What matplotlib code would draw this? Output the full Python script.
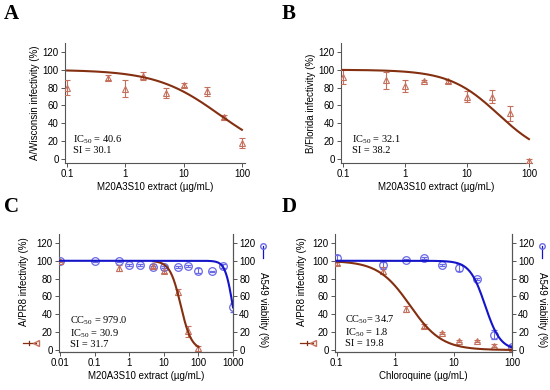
import numpy as np
import matplotlib
matplotlib.use("Agg")
import matplotlib.pyplot as plt
from matplotlib.lines import Line2D

plt.rcParams['font.family'] = ['Liberation Sans', 'DejaVu Sans']
plt.rcParams['mathtext.fontset'] = 'custom'
plt.rcParams['mathtext.rm'] = 'Liberation Serif'

# ---------------- data ----------------
# A: A/Wisconsin
a_dose = [0.1, 0.5, 1, 2, 5, 10, 25, 50, 100]
a_inf = [80, 91, 79, 93, 74, 83, 76, 47, 18]
a_err = [8, 3, 9, 4, 6, 2, 5, 2, 6]
a_fit = (40.6, 0.8)  # (IC50, hill)

# B: B/Florida
b_dose = [0.1, 0.5, 1, 2, 5, 10, 25, 50, 100]
b_inf = [92, 88, 82, 87, 87, 70, 70, 51, -2]
b_err = [8, 10, 7, 1, 2, 6, 7, 8, 2]
b_fit = (32.1, 1.1)

# C: A/PR8 with M20A3S10
c_dose_inf = [0.01, 0.5, 5, 10, 25, 50, 100]
c_inf = [100, 92, 94, 88, 65, 21, 2]
c_inf_err = [1, 3, 2, 2, 3, 6, 3]
c_dose_via = [0.01, 0.1, 0.5, 1, 2, 5, 10, 25, 50, 100, 250, 500, 1000]
c_via = [100, 100, 100, 95, 95, 93, 93, 93, 94, 89, 88, 94, 48]
c_via_err = [1, 1, 1, 1, 1, 1, 1, 1, 1, 3, 1, 2, 5]
c_fit_inf = (30.9, 2.8)
c_fit_via = (979.0, 4.0)

# D: A/PR8 with chloroquine
d_dose = [0.1, 0.625, 1.5625, 3.125, 6.25, 12.5, 25, 50, 100]
d_inf = [97, 89, 46, 27, 19, 10, 10, 5, 2]
d_inf_err = [2, 4, 3, 2, 1, 1, 1, 2, 1]
d_via = [103, 95, 101, 103, 95, 92, 80, 17, 3]
d_via_err = [3, 4, 1, 1, 1, 4, 1, 5, 3]
d_fit_inf = (1.8, 1.6)
d_fit_via = (34.7, 3.3)

BROWN = '#842f10'
TRI = '#c4705c'
BLUE = '#1414c8'
CIRC = '#6a6ae6'
GRAY = '#555555'


def hill(x, ic50, h):
    return 100.0 / (1.0 + (x / ic50) ** h)


def style_ax(ax, right=False):
    ax.spines['top'].set_visible(False)
    if not right:
        ax.spines['right'].set_visible(False)
    for s in ax.spines.values():
        s.set_color(GRAY)
        s.set_linewidth(0.8)
    ax.tick_params(labelsize=7, length=3, width=0.7, color=GRAY, pad=1.5)
    ax.set_yticks([0, 20, 40, 60, 80, 100, 120])


def tri(ax, x, y, e):
    ax.errorbar(x, y, yerr=e, fmt='^', ms=5, mfc='none', mec=TRI, mew=0.8,
                ecolor=TRI, elinewidth=0.8, capsize=2, capthick=0.8, zorder=3)


def circ(ax, x, y, e):
    ax.errorbar(x, y, yerr=e, fmt='o', ms=5.5, mfc='none', mec=CIRC, mew=0.9,
                ecolor=CIRC, elinewidth=0.8, capsize=2, capthick=0.8, zorder=3)


def note(ax, x, y, lines):
    ax.text(x, y, '\n'.join(lines), fontsize=7.5, family='Liberation Serif',
            va='center', ha='left', linespacing=1.0)


def keys(ax, axr, xl, xr):
    # small symbol keys beside the axis titles
    ax.add_line(Line2D([xl - 0.035, xl + 0.035], [0.075, 0.075], transform=ax.transAxes,
                       color=BROWN, lw=0.9, marker='<', ms=4, mfc='none', mec=TRI,
                       markevery=[1], clip_on=False))
    ax.add_line(Line2D([xl, xl], [0.06, 0.09], transform=ax.transAxes, color=BROWN,
                       lw=0.9, clip_on=False))
    axr.add_line(Line2D([xr, xr], [0.80, 0.90], transform=axr.transAxes, color=BLUE,
                        lw=0.9, marker='o', ms=4, mfc='none', mec=CIRC,
                        markevery=[1], clip_on=False))


fig = plt.figure(figsize=(5.5, 3.9), dpi=100)
W, H = 550.0, 390.0


def axes_px(l, r, t, b):
    return fig.add_axes([l / W, 1 - b / H, (r - l) / W, (b - t) / H])


# ---- A ----
ax = axes_px(65, 245, 43, 163)
style_ax(ax)
ax.set_xscale('log')
xs = np.logspace(-1, 2, 200)
ax.plot(xs, hill(xs, *a_fit), color=BROWN, lw=1.5, zorder=4)
tri(ax, a_dose, a_inf, a_err)
ax.set_xlim(0.092, 113)
ax.set_ylim(-4.5, 130)
ax.set_xticks([0.1, 1, 10, 100], ['0.1', '1', '10', '100'])
ax.minorticks_off()
ax.set_xlabel('M20A3S10 extract (\u00b5g/mL)', fontsize=7, labelpad=2)
ax.set_ylabel('A/Wisconsin infectivity (%)', fontsize=7, labelpad=2)
note(ax, 0.126, 17, ['IC$_{50}$ = 40.6', 'SI = 30.1'])

# ---- B ----
ax = axes_px(341, 532, 43, 163)
style_ax(ax)
ax.set_xscale('log')
ax.plot(xs, hill(xs, *b_fit), color=BROWN, lw=1.5, zorder=4)
tri(ax, b_dose, b_inf, b_err)
ax.set_xlim(0.093, 112)
ax.set_ylim(-4.5, 130)
ax.set_xticks([0.1, 1, 10, 100], ['0.1', '1', '10', '100'])
ax.minorticks_off()
ax.set_xlabel('M20A3S10 extract (\u00b5g/mL)', fontsize=7, labelpad=2)
ax.set_ylabel('B/Florida infectivity (%)', fontsize=7, labelpad=2)
note(ax, 0.138, 17, ['IC$_{50}$ = 32.1', 'SI = 38.2'])

# ---- C ----
ax = axes_px(59, 233, 234, 352)
style_ax(ax, right=True)
ax.set_xscale('log')
xc = np.logspace(np.log10(5), 2, 150)
ax.plot(xc, hill(xc, *c_fit_inf), color=BROWN, lw=1.5, zorder=4)
xv = np.logspace(-2, 3, 300)
ax.plot(xv, hill(xv, *c_fit_via), color=BLUE, lw=1.5, zorder=4)
circ(ax, c_dose_via, c_via, c_via_err)
tri(ax, c_dose_inf, c_inf, c_inf_err)
ax.set_xlim(0.0094, 1000)
ax.set_ylim(-2.2, 130)
ax.set_xticks([0.01, 0.1, 1, 10, 100, 1000], ['0.01', '0.1', '1', '10', '100', '1000'])
ax.minorticks_off()
ax.set_xlabel('M20A3S10 extract (\u00b5g/mL)', fontsize=7, labelpad=2)
ax.set_ylabel('A/PR8 infectivity (%)', fontsize=7)
ax.yaxis.set_label_coords(-0.17, 0.60)
note(ax, 0.0195, 20.5, ['CC$_{50}$ = 979.0', 'IC$_{50}$ = 30.9', 'SI = 31.7'])
axr = ax.twinx()
style_ax(axr, right=True)
axr.set_ylim(-2.2, 130)
axr.spines['left'].set_visible(False)
axr.set_ylabel('A549 viability (%)', fontsize=7, rotation=270, va='center')
axr.yaxis.set_label_coords(1.175, 0.36)
keys(ax, axr, -0.17, 1.175)

# ---- D ----
ax = axes_px(335, 512, 234, 352)
style_ax(ax, right=True)
ax.set_xscale('log')
ax.plot(xs, hill(xs, *d_fit_inf), color=BROWN, lw=1.5, zorder=4)
ax.plot(xs, hill(xs, *d_fit_via), color=BLUE, lw=1.5, zorder=4)
circ(ax, d_dose, d_via, d_via_err)
tri(ax, d_dose, d_inf, d_inf_err)
ax.set_xlim(0.094, 100)
ax.set_ylim(-2.2, 130)
ax.set_xticks([0.1, 1, 10, 100], ['0.1', '1', '10', '100'])
ax.minorticks_off()
ax.set_xlabel('Chloroquine (\u00b5g/mL)', fontsize=7, labelpad=2)
ax.set_ylabel('A/PR8 infectivity (%)', fontsize=7)
ax.yaxis.set_label_coords(-0.16, 0.60)
note(ax, 0.141, 21.5, ['CC$_{50}$= 34.7', 'IC$_{50}$ = 1.8', 'SI = 19.8'])
axr = ax.twinx()
style_ax(axr, right=True)
axr.set_ylim(-2.2, 130)
axr.spines['left'].set_visible(False)
axr.set_ylabel('A549 viability (%)', fontsize=7, rotation=270, va='center')
axr.yaxis.set_label_coords(1.17, 0.36)
keys(ax, axr, -0.16, 1.17)

# panel letters
for lbl, x, y in [('A', 4, 4), ('B', 282, 4), ('C', 4, 197), ('D', 282, 197)]:
    fig.text(x / W, 1 - y / H, lbl, fontsize=15, fontweight='bold',
             family='Liberation Serif', ha='left', va='top')

fig.savefig('out.png', dpi=100)
